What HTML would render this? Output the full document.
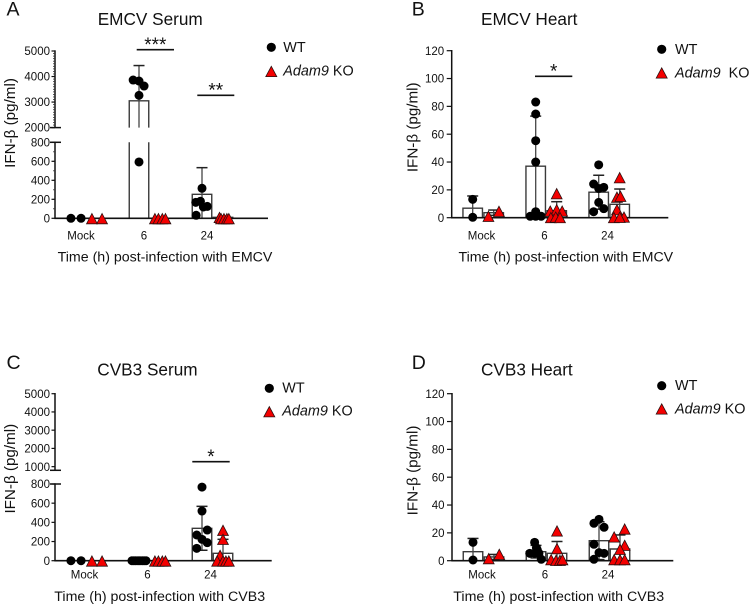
<!DOCTYPE html>
<html lang="en">
<head>
<meta charset="utf-8">
<title>IFN-beta charts</title>
<style>
html,body{margin:0;padding:0;background:#fff;width:750px;height:606px;overflow:hidden}
svg{display:block}
text{font-family:"Liberation Sans",Arial,sans-serif;fill:#111}
.letter{font-size:19.5px}
.title{font-size:17.2px}
.axis-title{font-size:14.2px}
.y-title{font-size:15.2px}
.legend{font-size:14.4px}
.tick{font-size:11.5px}
.star{font-size:19px}
</style>
</head>
<body>
<svg id="figure" width="750" height="606" viewBox="0 0 750 606" xmlns="http://www.w3.org/2000/svg">
  <rect width="750" height="606" fill="#fff"/>

  <g id="panel-a">
    <text class="letter" x="6.5" y="15.7">A</text>
    <text class="title" x="97.7" y="25">EMCV Serum</text>
    <text class="y-title" text-anchor="middle" transform="translate(15 123) rotate(-90)">IFN-β (pg/ml)</text>
    <text class="axis-title" text-anchor="middle" x="165" y="261.7">Time (h) post-infection with EMCV</text>
    <g>
      <circle cx="271.3" cy="47.3" r="4.6" fill="#000"/>
      <text class="legend" x="283.3" y="52">WT</text>
      <path d="M271.3 66.3l5.5 10.3h-11z" fill="#f40000" stroke="#2a1010" stroke-width="0.8"/>
      <text class="legend" x="283.3" y="75.7"><tspan font-style="italic">Adam9</tspan> KO</text>
    </g>
  </g>

  <g id="panel-b">
    <text class="letter" x="411.7" y="15.7">B</text>
    <text class="title" x="481" y="25">EMCV Heart</text>
    <text class="y-title" text-anchor="middle" transform="translate(417.7 127.3) rotate(-90)">IFN-β (pg/ml)</text>
    <text class="axis-title" text-anchor="middle" x="565.8" y="261.7">Time (h) post-infection with EMCV</text>
    <g>
      <circle cx="661.7" cy="49.3" r="4.6" fill="#000"/>
      <text class="legend" x="675" y="54">WT</text>
      <path d="M661.7 67.8l5.5 10.3h-11z" fill="#f40000" stroke="#2a1010" stroke-width="0.8"/>
      <text class="legend" x="675" y="77.3"><tspan font-style="italic">Adam9</tspan>&#160; KO</text>
    </g>
  </g>

  <g id="panel-c">
    <text class="letter" x="6.5" y="369">C</text>
    <text class="title" x="97.3" y="375.7">CVB3 Serum</text>
    <text class="y-title" text-anchor="middle" transform="translate(15 468.7) rotate(-90)">IFN-β (pg/ml)</text>
    <text class="axis-title" text-anchor="middle" x="159.7" y="601">Time (h) post-infection with CVB3</text>
    <g>
      <circle cx="269.3" cy="388.3" r="4.6" fill="#000"/>
      <text class="legend" x="282.3" y="392.7">WT</text>
      <path d="M269.3 406.6l5.5 10.3h-11z" fill="#f40000" stroke="#2a1010" stroke-width="0.8"/>
      <text class="legend" x="282.3" y="415.7"><tspan font-style="italic">Adam9</tspan> KO</text>
    </g>
  </g>

  <g id="panel-d">
    <text class="letter" x="411.7" y="369">D</text>
    <text class="title" x="481" y="375.7">CVB3 Heart</text>
    <text class="y-title" text-anchor="middle" transform="translate(417.7 470.5) rotate(-90)">IFN-β (pg/ml)</text>
    <text class="axis-title" text-anchor="middle" x="558.7" y="601">Time (h) post-infection with CVB3</text>
    <g>
      <circle cx="661.7" cy="385.7" r="4.6" fill="#000"/>
      <text class="legend" x="675" y="390">WT</text>
      <path d="M661.7 403.8l5.5 10.3h-11z" fill="#f40000" stroke="#2a1010" stroke-width="0.8"/>
      <text class="legend" x="675" y="413.3"><tspan font-style="italic">Adam9</tspan> KO</text>
    </g>
  </g>
</svg>

<script>
// Shared categories and tick labels
const categories = ['Mock', '6', '24'];
const serumTicksLow = [0, 200, 400, 600, 800];
const serumATicksHigh = [2000, 3000, 4000, 5000];
const serumCTicksHigh = [1000, 2000, 3000, 4000, 5000];
const heartTicks = [0, 20, 40, 60, 80, 100, 120];

// Panel A: EMCV serum
const aWtMean = [0, 3050, 253];
const aWtErrTop = [0, 4430, 533];
const aKoMean = [0, 0, 10];
const aKoErrTop = [0, 0, 20];
const aWtValues = [[0, 0], [3863, 3824, 3627, 3262, 593], [316, 168, 179, 119, 125, 32]];
const aKoValues = [[0, 0], [0, 0, 0, 0], [12, 0, 0, 0, 0]];
const aWtJitter = [[-0.26, 0.26], [-0.3, 0, 0.26, 0, 0], [0, -0.32, -0.08, 0.07, 0.27, -0.3]];
const aKoJitter = [[-0.26, 0.26], [-0.26, -0.08, 0.12, 0.28], [-0.18, -0.1, 0.05, 0.2, 0.3]];

// Panel B: EMCV heart
const bWtMean = [6.8, 37, 18.3];
const bWtErrTop = [15.6, 73, 30.5];
const bKoMean = [3.6, 5, 9.6];
const bKoErrTop = [5.5, 11.5, 20.6];
const bWtValues = [[13.2, 0.3], [83.1, 74.5, 55.3, 40, 4.3, 1, 1, 1], [38, 24.2, 21, 21.8, 11, 6.5, 4.3]];
const bKoValues = [[1.2, 4.8], [17.5, 5, 6, 5, 0.3, 0.7, 0.3], [29, 15, 15.6, 6, 0.3, 0.7, 0.5]];
const bWtJitter = [[0, 0], [0, 0, 0, 0, 0, -0.28, 0.28, 0], [0, -0.26, 0, 0.26, 0, 0.26, -0.26]];
const bKoJitter = [[-0.27, 0.27], [0, -0.33, 0, 0.28, -0.3, -0.05, 0.17], [0, -0.14, 0.04, -0.14, -0.3, 0.22, 0]];

// Panel C: CVB3 serum
const cWtMean = [0, 0, 338];
const cWtErrTop = [0, 0, 567];
const cKoMean = [0, 0, 77];
const cKoErrTop = [0, 0, 223];
const cWtValues = [[0, 0], [0, 0, 0, 0, 0, 0, 0, 0], [768, 518, 320, 268, 223, 188, 129]];
const cKoValues = [[0, 0], [0, 0, 0, 0], [320, 226, 59, 0, 0, 0, 0]];
const cWtJitter = [[-0.26, 0.26], [-0.36, -0.26, -0.16, -0.05, 0.05, 0.16, 0.26, 0.36], [0, 0, 0.27, -0.27, 0, 0.27, -0.27]];
const cKoJitter = [[-0.26, 0.26], [-0.26, -0.08, 0.12, 0.28], [0, 0, -0.15, -0.3, 0, 0.15, 0.3]];

// Panel D: CVB3 heart
const dWtMean = [6.5, 6.5, 14.4];
const dWtErrTop = [16, 11, 28];
const dKoMean = [2.7, 5.3, 8.4];
const dKoErrTop = [4.5, 13.8, 18.5];
const dWtValues = [[13.2, 0.5], [13.2, 9.3, 7.7, 5.3, 5.3, 5.3, 1], [29.7, 26.9, 24, 11.8, 5.8, 5.3, 1]];
const dKoValues = [[1.7, 4.8], [21.6, 8.9, 1, 0.5, 0.5, 1], [23, 17.3, 11.3, 8.4, 1, 1, 1]];
const dWtJitter = [[0, 0], [-0.07, 0.02, 0.07, -0.32, -0.07, 0.15, 0.27], [0, -0.26, 0.26, -0.26, 0, 0.26, -0.26]];
const dKoJitter = [[-0.27, 0.27], [0, 0, -0.3, -0.05, 0.15, 0.28], [0.24, -0.3, 0.24, 0, -0.3, 0, 0.24]];

const NS = 'http://www.w3.org/2000/svg';
const INK = '#111';
const BAR_W = 19.5;
const GROUP_STEP = 63;

function make(tag, parent, attrs) {
  const el = document.createElementNS(NS, tag);
  for (const k in attrs) el.setAttribute(k, attrs[k]);
  parent.appendChild(el);
  return el;
}

function makeY(cfg) {
  return function (v) {
    if (cfg.high && v > cfg.lowMax) {
      return cfg.highBase + (v - cfg.highMin) * (cfg.highTop - cfg.highBase) / (cfg.highMax - cfg.highMin);
    }
    return cfg.y0 + v * (cfg.lowTop - cfg.y0) / cfg.lowMax;
  };
}

function line(parent, x1, y1, x2, y2, stroke, width) {
  return make('line', parent, { x1: x1, y1: y1, x2: x2, y2: y2, stroke: stroke, 'stroke-width': width });
}

function drawBar(g, cfg, y, cx, mean) {
  const l = cx - BAR_W / 2, r = cx + BAR_W / 2;
  const style = { fill: '#fff', stroke: '#3a3a3a', 'stroke-width': 1.4 };
  let d;
  if (cfg.high && mean > cfg.lowMax) {
    d = 'M' + l + ' ' + cfg.y0 + 'V' + cfg.lowTop + 'M' + r + ' ' + cfg.lowTop + 'V' + cfg.y0;
    const lower = make('rect', g, { x: l, y: cfg.lowTop, width: BAR_W, height: cfg.y0 - cfg.lowTop, fill: '#fff' });
    
    
    const sides = make('path', g, { d: d, fill: 'none', stroke: style.stroke, 'stroke-width': style['stroke-width'] });
    
    
    const top = y(mean);
    const upper = make('path', g, { d: 'M' + l + ' ' + cfg.highBase + 'V' + top + 'H' + r + 'V' + cfg.highBase, fill: '#fff', stroke: style.stroke, 'stroke-width': style['stroke-width'] });
    
    
  } else {
    const top = y(mean);
    const bar = make('path', g, { d: 'M' + l + ' ' + cfg.y0 + 'V' + top + 'H' + r + 'V' + cfg.y0, fill: style.fill, stroke: style.stroke, 'stroke-width': style['stroke-width'] });
    
    
  }
}

function drawWhisker(g, cfg, y, cx, mean, errTop) {
  if (errTop <= mean) return;
  const low = Math.max(0, 2 * mean - errTop);
  const segs = [];
  if (cfg.high) {
    if (errTop > cfg.highMin && mean > cfg.highMin) segs.push([Math.max(low, cfg.highMin), errTop]);
    else if (errTop > cfg.highMin) segs.push([cfg.highMin, errTop]);
    if (low < cfg.lowMax) segs.push([low, Math.min(mean, cfg.lowMax)]);
    if (errTop <= cfg.lowMax) { segs.length = 0; segs.push([low, errTop]); }
  } else {
    segs.push([low, errTop]);
  }
  segs.forEach(function (s) {
    const stem = line(g, cx, y(s[0]), cx, y(s[1]), '#444', 1.3);
    
    
  });
  const capTop = line(g, cx - 5.5, y(errTop), cx + 5.5, y(errTop), '#222', 1.5);
  
  
  if (low > 0 && (!cfg.high || low <= cfg.lowMax || low >= cfg.highMin)) {
    const capLow = line(g, cx - 5.5, y(low), cx + 5.5, y(low), '#222', 1.5);
    
    
  }
}

function drawCircle(g, x, yy) {
  const c = make('circle', g, { cx: x, cy: yy, r: 4.5, fill: '#000' });
  
  
}

function drawTriangle(g, x, yy) {
  const d = 'M' + x + ' ' + (yy - 5.2) + 'l5.4 10.3h-10.8z';
  const t = make('path', g, { d: d, fill: '#f40000', stroke: '#2a1010', 'stroke-width': 0.8 });
  
  
}

function tickLabel(g, x, yy, label, anchor) {
  const t = make('text', g, { x: x, y: yy, 'text-anchor': anchor, class: 'tick' });
  t.textContent = label;
  
  
}

function drawPanel(cfg) {
  const root = document.getElementById(cfg.id);
  const y = makeY(cfg);
  const marks = make('g', root, {});
  
  
  const xWt = function (i) { return cfg.x0 + 31.5 + i * GROUP_STEP - 10.5; };
  const xKo = function (i) { return cfg.x0 + 31.5 + i * GROUP_STEP + 10.5; };

  categories.forEach(function (cat, i) {
    if (cfg.wtMean[i] > 0) drawBar(marks, cfg, y, xWt(i), cfg.wtMean[i]);
    if (cfg.koMean[i] > 0) drawBar(marks, cfg, y, xKo(i), cfg.koMean[i]);
    drawWhisker(marks, cfg, y, xWt(i), cfg.wtMean[i], cfg.wtErr[i]);
    drawWhisker(marks, cfg, y, xKo(i), cfg.koMean[i], cfg.koErr[i]);
  });

  // axes
  const axes = make('g', root, {});
  
  
  const xAxis = line(axes, cfg.x0 - 0.7, cfg.y0, cfg.xEnd, cfg.y0, INK, 1.7);
  
  
  const yAxisLow = line(axes, cfg.x0, cfg.y0, cfg.x0, cfg.lowTop - 0.7, INK, 1.5);
  
  
  if (cfg.high) {
    const yAxisHigh = line(axes, cfg.x0, cfg.highBase, cfg.x0, cfg.highTop - 0.7, INK, 1.5);
    
    
    const breakLow = line(axes, cfg.x0 - 5, cfg.lowTop, cfg.x0 + 6, cfg.lowTop, INK, 1.5);
    
    
    const breakHigh = line(axes, cfg.x0 - 5, cfg.highBase, cfg.x0 + 6, cfg.highBase, INK, 1.5);
    
    
  }
  if (cfg.minor) {
    for (let v = 100; v < cfg.lowMax; v += 100) {
      const m = line(axes, cfg.x0 - 2, y(v), cfg.x0, y(v), '#333', 0.8);
      
      
    }
    for (let v = cfg.highMin + 100; v < cfg.highMax; v += 100) {
      const m = line(axes, cfg.x0 - 2, y(v), cfg.x0, y(v), '#333', 0.8);
      
      
    }
  }
  cfg.ticks.forEach(function (v) {
    const yy = y(v);
    const t = line(axes, cfg.x0 - cfg.tickLen, yy, cfg.x0, yy, INK, 1.2);
    
    
    tickLabel(axes, cfg.x0 - cfg.labelGap, yy + 4.1, String(v), 'end');
  });
  categories.forEach(function (cat, i) {
    tickLabel(axes, cfg.x0 + 31.5 + i * GROUP_STEP + cfg.catShift, cfg.catY, cat, 'middle');
  });

  // points
  const points = make('g', root, {});
  
  
  categories.forEach(function (cat, i) {
    cfg.wtVals[i].forEach(function (v, j) {
      drawCircle(points, xWt(i) + cfg.wtJit[i][j] * BAR_W, y(v));
    });
    cfg.koVals[i].forEach(function (v, j) {
      drawTriangle(points, xKo(i) + cfg.koJit[i][j] * BAR_W, y(v) + 0.4);
    });
  });

  // significance
  cfg.sig.forEach(function (s) {
    const b = line(root, s.x1, s.y, s.x2, s.y, INK, 1.6);
    
    
    const st = make('text', root, { x: (s.x1 + s.x2) / 2, y: s.y + 1.2, 'text-anchor': 'middle', class: 'star' });
    st.textContent = s.label;
    
    
  });
}

drawPanel({
  id: 'panel-a', x0: 55, xEnd: 268, y0: 218.3, lowTop: 142.3, lowMax: 800,
  high: true, highBase: 127.6, highTop: 51, highMin: 2000, highMax: 5000,
  ticks: serumTicksLow.concat(serumATicksHigh), tickLen: 3.5, labelGap: 5, minor: true,
  catShift: -5.5, catY: 239.3,
  wtMean: aWtMean, wtErr: aWtErrTop, koMean: aKoMean, koErr: aKoErrTop,
  wtVals: aWtValues, koVals: aKoValues, wtJit: aWtJitter, koJit: aKoJitter,
  sig: [{ x1: 136.7, x2: 174, y: 49.7, label: '***' }, { x1: 197.3, x2: 234.3, y: 95.3, label: '**' }]
});
drawPanel({
  id: 'panel-b', x0: 451.7, xEnd: 668.3, y0: 217.7, lowTop: 50.7, lowMax: 120,
  high: false,
  ticks: heartTicks, tickLen: 5, labelGap: 7.5, minor: false,
  catShift: -1.7, catY: 239.3,
  wtMean: bWtMean, wtErr: bWtErrTop, koMean: bKoMean, koErr: bKoErrTop,
  wtVals: bWtValues, koVals: bKoValues, wtJit: bWtJitter, koJit: bKoJitter,
  sig: [{ x1: 535, x2: 572.3, y: 76.3, label: '*' }]
});
drawPanel({
  id: 'panel-c', x0: 55, xEnd: 271.7, y0: 560.7, lowTop: 484, lowMax: 800,
  high: true, highBase: 470.3, highTop: 393.7, highMin: 800, highMax: 5000,
  ticks: serumTicksLow.concat(serumCTicksHigh), tickLen: 3.5, labelGap: 5, minor: false,
  catShift: -2, catY: 578.3,
  wtMean: cWtMean, wtErr: cWtErrTop, koMean: cKoMean, koErr: cKoErrTop,
  wtVals: cWtValues, koVals: cKoValues, wtJit: cWtJitter, koJit: cKoJitter,
  sig: [{ x1: 192.3, x2: 229.7, y: 461.7, label: '*' }]
});
drawPanel({
  id: 'panel-d', x0: 452, xEnd: 673.3, y0: 560.7, lowTop: 393.7, lowMax: 120,
  high: false,
  ticks: heartTicks, tickLen: 5, labelGap: 7.5, minor: false,
  catShift: -1.5, catY: 578.3,
  wtMean: dWtMean, wtErr: dWtErrTop, koMean: dKoMean, koErr: dKoErrTop,
  wtVals: dWtValues, koVals: dKoValues, wtJit: dWtJitter, koJit: dKoJitter,
  sig: []
});
</script>
</body>
</html>
